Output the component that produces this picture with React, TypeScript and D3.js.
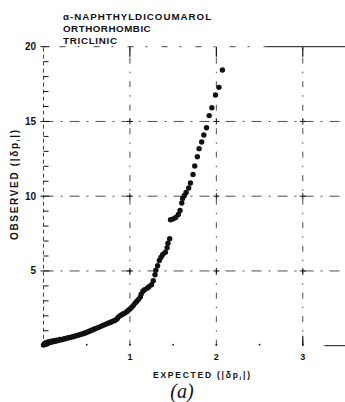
import * as d3 from "d3";

// observed vs expected |δp_i| (normal probability plot)
const EXPECTED = [
  0.0, 0.01, 0.02, 0.03, 0.04, 0.05, 0.06, 0.08, 0.09, 0.11, 0.12, 0.14, 0.15,
  0.17, 0.19, 0.21, 0.23, 0.25, 0.27, 0.29, 0.31, 0.33, 0.35, 0.37, 0.39, 0.41,
  0.43, 0.45, 0.47, 0.49, 0.51, 0.53, 0.55, 0.57, 0.59, 0.61, 0.63, 0.65, 0.67,
  0.69, 0.71, 0.73, 0.75, 0.77, 0.79, 0.81, 0.83, 0.85, 0.86, 0.88, 0.9, 0.92,
  0.94, 0.96, 0.98, 1.0, 1.02, 1.04, 1.06, 1.08, 1.1, 1.12, 1.13, 1.15, 1.17,
  1.2, 1.22, 1.25, 1.27, 1.29, 1.3, 1.32, 1.34, 1.36, 1.38, 1.41, 1.43, 1.44,
  1.46, 1.47, 1.5, 1.53, 1.56, 1.58, 1.6, 1.61, 1.63, 1.65, 1.68, 1.7, 1.73,
  1.75, 1.78, 1.8, 1.83, 1.855, 1.886, 1.917, 1.948, 1.99, 2.03, 2.07,
];
const OBSERVED = [
  0.05, 0.12, 0.18, 0.1, 0.22, 0.15, 0.27, 0.22, 0.3, 0.26, 0.34, 0.3, 0.37,
  0.35, 0.41, 0.4, 0.45, 0.46, 0.5, 0.53, 0.56, 0.59, 0.62, 0.65, 0.69, 0.72,
  0.76, 0.79, 0.83, 0.87, 0.92, 0.97, 1.02, 1.07, 1.12, 1.16, 1.21, 1.26, 1.31,
  1.36, 1.41, 1.46, 1.51, 1.56, 1.61, 1.66, 1.71, 1.78, 1.88, 1.98, 2.05, 2.12,
  2.18, 2.25, 2.35, 2.45, 2.58, 2.7, 2.85, 2.98, 3.1, 3.25, 3.45, 3.65, 3.75,
  3.85, 3.95, 4.08, 4.35, 4.75, 5.05, 5.35, 5.7, 5.92, 6.1, 6.25, 6.55, 6.85,
  7.15, 8.42, 8.48, 8.58, 8.78, 9.05, 9.55, 9.85, 10.05, 10.25, 10.55, 10.88,
  11.45, 12.02, 12.64, 13.18, 13.63, 14.09, 14.58, 15.39, 15.92, 16.77, 17.28,
  18.44,
];

const X_TICKS = [1, 2, 3];
const X_MINOR = [0.5, 1.5, 2.5];
const Y_TICKS = [5, 10, 15, 20];
const Y_MINOR = d3.range(1, 20).filter((v) => v % 5 !== 0);
const TITLE_LINES = ["α-NAPHTHYLDICOUMAROL", "ORTHORHOMBIC", "TRICLINIC"];
const TITLE_SPACING = [0.95, 0.5, 0.7];

const W = 345;
const H = 402;
const INK = "#111";
const FONT = "'Liberation Sans', Arial, sans-serif";

export default function App() {
  const x = d3.scaleLinear().domain([0, 3.5]).range([43.5, 346]);
  const y = d3.scaleLinear().domain([0, 20]).range([345.7, 46.7]);
  const pts = EXPECTED.map((e, i) => ({ e, o: OBSERVED[i] }));

  return (
    <svg
      width={W}
      height={H}
      style={{ position: "absolute", left: 0, top: 0, background: "#fff" }}
    >
      <rect width={W} height={H} fill="#fff" />

      {/* title */}
      {TITLE_LINES.map((t, i) => (
        <text
          key={t}
          x={63}
          y={19.5 + i * 12}
          fontFamily={FONT}
          fontWeight="bold"
          fontSize={9.8}
          letterSpacing={TITLE_SPACING[i]}
          fill={INK}
        >
          {t}
        </text>
      ))}

      {/* horizontal grid lines */}
      {Y_TICKS.filter((v) => v < 20).map((v) => (
        <line
          key={"hg" + v}
          x1={x(0)}
          x2={x(3.5)}
          y1={y(v)}
          y2={y(v)}
          stroke={INK}
          strokeWidth={0.75}
          strokeDasharray="10,7,2,7"
        />
      ))}
      <line
        x1={x(0)}
        x2={x(2.58)}
        y1={y(20)}
        y2={y(20)}
        stroke={INK}
        strokeWidth={0.8}
        strokeDasharray="2,14,6,12"
      />
      <line
        x1={x(2.58)}
        x2={x(3.5)}
        y1={y(20)}
        y2={y(20)}
        stroke={INK}
        strokeWidth={1}
      />

      {/* vertical grid lines */}
      {X_TICKS.map((v) => (
        <line
          key={"vg" + v}
          x1={x(v)}
          x2={x(v)}
          y1={y(0)}
          y2={y(20)}
          stroke={INK}
          strokeWidth={0.75}
          strokeDasharray="6,8,1.5,8"
        />
      ))}
      {X_TICKS.map((v) => (
        <line
          key={"vt" + v}
          x1={x(v)}
          x2={x(v)}
          y1={y(20)}
          y2={y(20) + 10}
          stroke={INK}
          strokeWidth={1.2}
        />
      ))}
      {/* crosses at grid intersections */}
      {X_TICKS.flatMap((a) =>
        Y_TICKS.filter((b) => b < 20).map((b) => (
          <g key={"c" + a + b} stroke={INK} strokeWidth={1}>
            <line x1={x(a) - 3} x2={x(a) + 3} y1={y(b)} y2={y(b)} />
            <line x1={x(a)} x2={x(a)} y1={y(b) - 3} y2={y(b) + 3} />
          </g>
        ))
      )}

      {/* y axis */}
      <line
        x1={x(0)}
        x2={x(0)}
        y1={y(0)}
        y2={y(20)}
        stroke={INK}
        strokeWidth={0.8}
        strokeDasharray="4,3"
      />
      {Y_MINOR.map((v) => (
        <line
          key={"ym" + v}
          x1={x(0)}
          x2={x(0) + 5}
          y1={y(v)}
          y2={y(v)}
          stroke={INK}
          strokeWidth={1}
        />
      ))}
      {Y_TICKS.map((v) => (
        <g key={"yt" + v}>
          <line
            x1={x(0) - 3}
            x2={x(0) + 6}
            y1={y(v)}
            y2={y(v)}
            stroke={INK}
            strokeWidth={1}
          />
          <text
            x={36}
            y={y(v) + 3.5}
            textAnchor="end"
            fontFamily={FONT}
            fontWeight="bold"
            fontSize={10}
            fill={INK}
          >
            {v}
          </text>
        </g>
      ))}

      {/* x axis */}
      {X_MINOR.concat(X_TICKS).map((v) => (
        <circle key={"xm" + v} cx={x(v)} cy={y(0) - 1} r={0.9} fill={INK} />
      ))}
      <line
        x1={x(3)}
        x2={x(3)}
        y1={y(0) - 10}
        y2={y(0)}
        stroke={INK}
        strokeWidth={1.2}
      />
      <line
        x1={x(3.25)}
        x2={x(3.5)}
        y1={y(0)}
        y2={y(0)}
        stroke={INK}
        strokeWidth={1}
      />
      {X_TICKS.map((v) => (
        <text
          key={"xt" + v}
          x={x(v)}
          y={360}
          textAnchor="middle"
          fontFamily={FONT}
          fontWeight="bold"
          fontSize={9}
          fill={INK}
        >
          {v}
        </text>
      ))}

      {/* data */}
      {pts.map((p, i) => (
        <circle key={i} cx={x(p.e)} cy={y(p.o)} r={2.7} fill={INK} />
      ))}

      {/* axis titles */}
      <text
        x={153}
        y={378}
        fontFamily={FONT}
        fontWeight="bold"
        fontSize={8.5}
        textLength={97}
        lengthAdjust="spacing"
        fill={INK}
      >
        EXPECTED (|δp
        <tspan fontSize={6} dy={2}>
          i
        </tspan>
        <tspan dy={-2}>|)</tspan>
      </text>
      <text
        transform={`translate(18,${185}) rotate(-90)`}
        textAnchor="middle"
        fontFamily={FONT}
        fontWeight="bold"
        fontSize={10}
        textLength={110}
        lengthAdjust="spacing"
        fill={INK}
      >
        OBSERVED (|δp
        <tspan fontSize={6} dy={2}>
          i
        </tspan>
        <tspan dy={-2}>|)</tspan>
      </text>
      <text
        x={182}
        y={398}
        textAnchor="middle"
        fontFamily="'Liberation Serif', serif"
        fontStyle="italic"
        fontSize={20}
        fill={INK}
      >
        (a)
      </text>
    </svg>
  );
}
